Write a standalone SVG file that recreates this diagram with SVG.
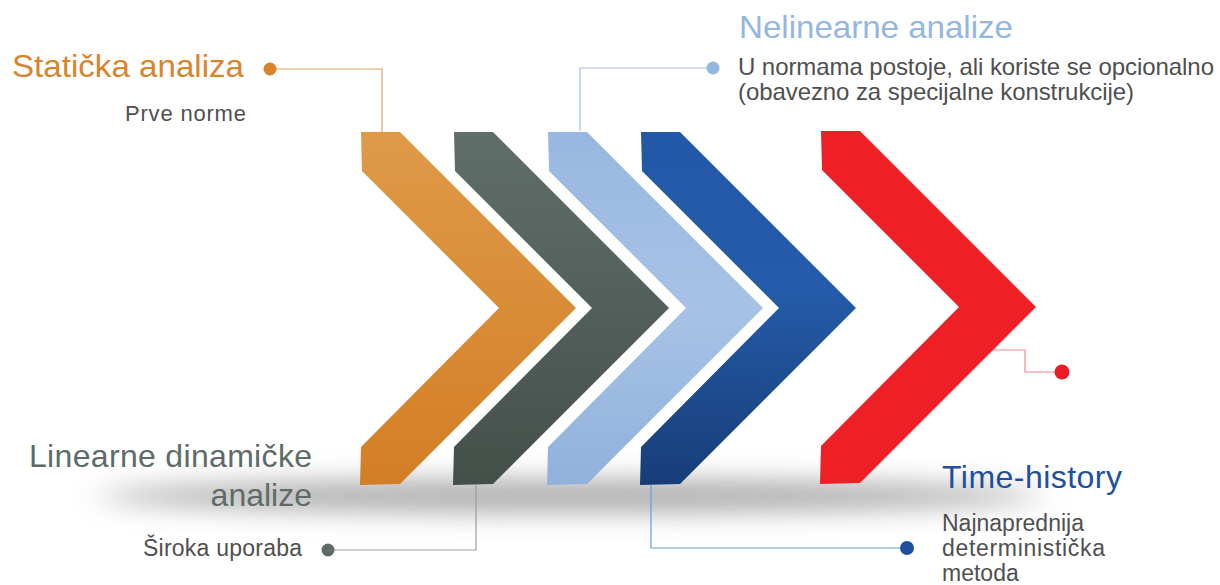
<svg xmlns="http://www.w3.org/2000/svg" width="1220" height="585" viewBox="0 0 1220 585">
  <defs>
    <style>
      text { font-family: "Liberation Sans", Arial, sans-serif; }
      .head { font-size: 32px; }
      .sub { font-size: 24px; fill: #4f4f4f; }
      .conn { fill: none; stroke-width: 1.2; }
    </style>
    <linearGradient id="gOrange" x1="0" y1="0" x2="0" y2="1">
      <stop offset="0" stop-color="#DF9A48"/>
      <stop offset="1" stop-color="#D37E25"/>
    </linearGradient>
    <linearGradient id="gGray" x1="0" y1="0" x2="0" y2="1">
      <stop offset="0" stop-color="#606E6A"/>
      <stop offset="1" stop-color="#454F4A"/>
    </linearGradient>
    <linearGradient id="gLight" x1="0" y1="0" x2="0" y2="1">
      <stop offset="0" stop-color="#98B7E0"/>
      <stop offset="0.5" stop-color="#A7C2E6"/>
      <stop offset="1" stop-color="#91B1DC"/>
    </linearGradient>
    <linearGradient id="gDark" x1="0" y1="0" x2="0" y2="1">
      <stop offset="0" stop-color="#2358A7"/>
      <stop offset="0.45" stop-color="#255BA9"/>
      <stop offset="1" stop-color="#173D78"/>
    </linearGradient>
    <filter id="blur" x="-30%" y="-300%" width="160%" height="700%">
      <feGaussianBlur stdDeviation="18 13"/>
    </filter>
  </defs>

  <rect width="1220" height="585" fill="#ffffff"/>

  <!-- shadow -->
  <ellipse cx="570" cy="496" rx="470" ry="17" fill="#8c8c8c" opacity="0.7" filter="url(#blur)"/>

  <!-- connectors -->
  <g id="connectors">
    <polyline class="conn" stroke="#E2A562" points="276,69 382,69 382,132"/>
    <polyline class="conn" stroke="#A3C0E6" points="707,68 580,68 580,131"/>
    <polyline class="conn" stroke="#9A9E9C" points="334,550 476,550 476,485"/>
    <polyline class="conn" stroke="#6E9BD8" points="651,485 651,548 900,548"/>
    <polyline class="conn" stroke="#F08A8A" points="992,350 1025,350 1025,372 1055,372"/>
  </g>

  <g id="node-staticka">
    <polygon fill="url(#gOrange)" points="361,132 400,132 576,308 400,484 360,485 361,447 499,308 362,171"/>
    <circle cx="270" cy="69" r="6.5" fill="#D9842C"/>
    <text class="head" x="12" y="77" fill="#D9842C" textLength="232" lengthAdjust="spacingAndGlyphs">Statička analiza</text>
    <text class="sub" x="125" y="121" style="font-size:22px" textLength="121">Prve norme</text>
  </g>

  <g id="node-linearne">
    <polygon fill="url(#gGray)" points="454,132 493,132 669,308 493,484 453,485 454,447 592,308 455,171"/>
    <circle cx="328" cy="550" r="6.5" fill="#5E6B67"/>
    <text class="head" x="29" y="467" fill="#5E6B67" textLength="283">Linearne dinamičke</text>
    <text class="head" x="312" y="506" fill="#5E6B67" text-anchor="end">analize</text>
    <text class="sub" x="143" y="556" style="font-size:23px" textLength="159">Široka uporaba</text>
  </g>

  <g id="node-nelinearne">
    <polygon fill="url(#gLight)" points="548,132 587,132 763,308 587,484 547,485 548,447 686,308 549,171"/>
    <circle cx="713" cy="68" r="6.5" fill="#94B6E2"/>
    <text class="head" x="739" y="38" fill="#94B6E2" textLength="274" lengthAdjust="spacingAndGlyphs">Nelinearne analize</text>
    <text class="sub" x="738" y="75" textLength="476">U normama postoje, ali koriste se opcionalno</text>
    <text class="sub" x="738" y="100" textLength="396">(obavezno za specijalne konstrukcije)</text>
  </g>

  <g id="node-timehistory">
    <polygon fill="url(#gDark)" points="641,132 680,132 856,308 680,484 640,485 641,447 779,308 642,171"/>
    <circle cx="907" cy="548" r="7" fill="#1E4FA0"/>
    <text class="head" x="942" y="488" fill="#1E4FA0" textLength="180">Time-history</text>
    <text class="sub" x="942" y="531" style="font-size:23px">Najnaprednija</text>
    <text class="sub" x="942" y="556" style="font-size:23px" textLength="163">deterministička</text>
    <text class="sub" x="942" y="581" style="font-size:23px">metoda</text>
  </g>

  <g id="node-red">
    <polygon fill="#EE2026" points="821,131 860,131 1036,307 860,483 820,484 821,446 959,307 822,170"/>
    <circle cx="1062" cy="372" r="7.5" fill="#EC1C24"/>
  </g>
</svg>
